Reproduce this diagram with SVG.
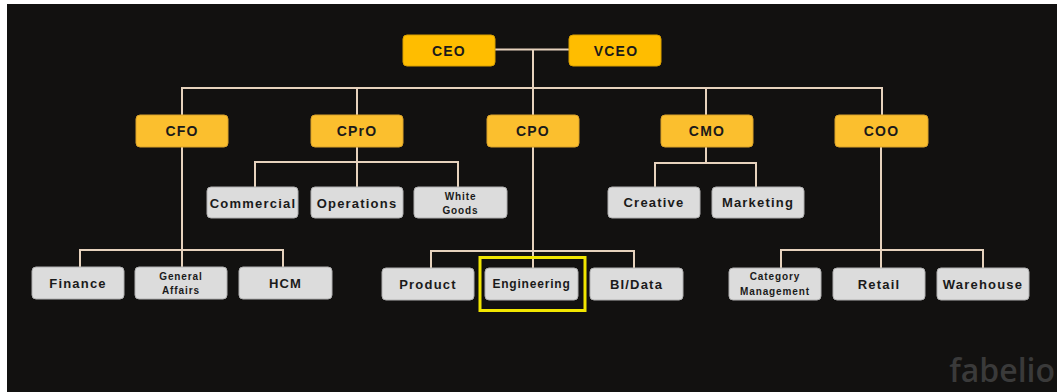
<svg xmlns="http://www.w3.org/2000/svg" width="1057" height="392" viewBox="0 0 1057 392">
<style>
.bg{fill:#121110}
.exec{fill:#ffbd00;stroke:#d9a000;stroke-width:1}
.lead{fill:#fbbf2e;stroke:#d9a22a;stroke-width:1}
.unit{fill:#dcdcdc;stroke:#b0b0b0;stroke-width:1}
.t{font-family:"Liberation Sans",Arial,sans-serif;font-weight:bold;fill:#1a1a1a;text-anchor:middle;letter-spacing:1.2px}
.t14{font-size:14px}
.t13{font-size:13px}
.ts{font-size:10px;letter-spacing:0.9px}
.ln{stroke:#e6d2bd;stroke-width:2;fill:none}
.hl{fill:none;stroke:#f2e600;stroke-width:3}
.wm{font-family:"Open Sans","Liberation Sans",sans-serif;font-weight:600;font-size:32px;fill:#3a3a3a;text-anchor:end}
</style>
<rect x="0" y="0" width="1057" height="392" fill="#ffffff"/>
<rect class="bg" x="7" y="4" width="1050" height="388"/>

<g id="connectors">
<path class="ln" d="M494 49.5 H569" stroke="#cfc7bd" stroke-width="3"/>
<path class="ln" d="M533 49.5 V115"/>
<path class="ln" d="M182 115 V88 H882 V115"/>
<path class="ln" d="M357 88 V115"/>
<path class="ln" d="M706 88 V115"/>
<path class="ln" d="M357 147 V187"/>
<path class="ln" d="M255 187 V162 H458 V187"/>
<path class="ln" d="M706 147 V163"/>
<path class="ln" d="M655 187 V163 H756 V187"/>
<path class="ln" d="M182 147 V267"/>
<path class="ln" d="M80 267 V250 H283 V267"/>
<path class="ln" d="M533 147 V268"/>
<path class="ln" d="M431 268 V251 H634 V268"/>
<path class="ln" d="M881 147 V268"/>
<path class="ln" d="M781 268 V250 H983 V268"/>
</g>

<g id="ceo"><rect class="exec" x="403" y="35" width="92" height="31" rx="4"/><text class="t t14" x="449" y="55.5">CEO</text></g>
<g id="vceo"><rect class="exec" x="569" y="35" width="92" height="31" rx="4"/><text class="t t14" x="616" y="55.5">VCEO</text></g>

<g id="cfo"><rect class="lead" x="136" y="115" width="92" height="32" rx="4"/><text class="t t14" x="182" y="136">CFO</text></g>
<g id="cpro"><rect class="lead" x="311" y="115" width="92" height="32" rx="4"/><text class="t t14" x="357" y="136">CPrO</text></g>
<g id="cpo"><rect class="lead" x="487" y="115" width="92" height="32" rx="4"/><text class="t t14" x="533" y="136">CPO</text></g>
<g id="cmo"><rect class="lead" x="661" y="115" width="92" height="32" rx="4"/><text class="t t14" x="707" y="136">CMO</text></g>
<g id="coo"><rect class="lead" x="835" y="115" width="93" height="32" rx="4"/><text class="t t14" x="881.5" y="136">COO</text></g>

<g id="commercial"><rect class="unit" x="207" y="187" width="91" height="31" rx="4"/><text class="t t13" x="253" y="207.5">Commercial</text></g>
<g id="operations"><rect class="unit" x="311" y="187" width="92" height="31" rx="4"/><text class="t t13" x="357" y="207.5">Operations</text></g>
<g id="whitegoods"><rect class="unit" x="414" y="187" width="93" height="31" rx="4"/><text class="t ts" x="460.5" y="199.5">White</text><text class="t ts" x="460.5" y="213.5">Goods</text></g>

<g id="creative"><rect class="unit" x="608" y="187" width="92" height="31" rx="4"/><text class="t t13" x="654" y="206.5">Creative</text></g>
<g id="marketing"><rect class="unit" x="712" y="187" width="92" height="31" rx="4"/><text class="t t13" x="758" y="206.5">Marketing</text></g>

<g id="finance"><rect class="unit" x="32" y="267" width="92" height="32" rx="4"/><text class="t t13" x="78" y="288">Finance</text></g>
<g id="generalaffairs"><rect class="unit" x="135" y="267" width="92" height="32" rx="4"/><text class="t ts" x="181" y="280">General</text><text class="t ts" x="181" y="294">Affairs</text></g>
<g id="hcm"><rect class="unit" x="239" y="267" width="93" height="32" rx="4"/><text class="t t13" x="285.5" y="288">HCM</text></g>

<g id="product"><rect class="unit" x="382" y="268" width="92" height="32" rx="4"/><text class="t t13" x="428" y="289">Product</text></g>
<g id="engineering"><rect class="unit" x="485" y="268" width="93" height="32" rx="4"/><text class="t t13" x="531.5" y="288" style="font-size:12px;letter-spacing:0.8px">Engineering</text></g>
<g id="bidata"><rect class="unit" x="590" y="268" width="93" height="32" rx="4"/><text class="t t13" x="636.5" y="289">BI/Data</text></g>
<rect class="hl" x="480" y="257.5" width="105" height="53"/>

<g id="categorymanagement"><rect class="unit" x="729" y="268" width="92" height="32" rx="4"/><text class="t ts" x="775" y="280">Category</text><text class="t ts" x="775" y="294.5">Management</text></g>
<g id="retail"><rect class="unit" x="833" y="268" width="92" height="32" rx="4"/><text class="t t13" x="879" y="289">Retail</text></g>
<g id="warehouse"><rect class="unit" x="937" y="268" width="92" height="32" rx="4"/><text class="t t13" x="983" y="288.5">Warehouse</text></g>

<text class="wm" x="1055" y="382">fabelio</text>
</svg>
